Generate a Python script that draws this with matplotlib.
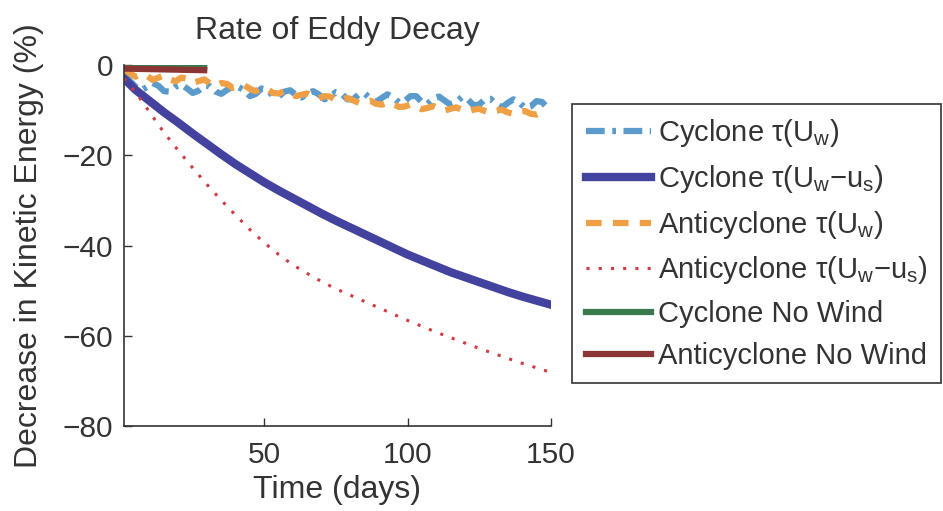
import numpy as np
import matplotlib
matplotlib.use("Agg")
import matplotlib.pyplot as plt

plt.rcParams["font.family"] = ["Liberation Sans", "DejaVu Sans"]
plt.rcParams["mathtext.fontset"] = "custom"
plt.rcParams["mathtext.rm"] = "Liberation Sans"
plt.rcParams["mathtext.it"] = "Liberation Sans:italic"

# wiggly runs (every 2 days)
days_wiggle = np.arange(1, 150, 2)
cyclone_uw = [
    -2.0, -3.5, -4.8, -5.6, -4.9, -4.0, -4.6, -5.8, -5.9, -4.8,
    -4.3, -5.2, -6.2, -5.7, -4.6, -4.7, -5.9, -6.4, -5.5, -4.8,
    -4.9, -5.6, -6.9, -6.4, -5.2, -5.5, -6.8, -7.0, -5.9, -5.6,
    -6.6, -7.2, -6.3, -5.8, -6.5, -7.6, -7.0, -6.0, -6.4, -7.6,
    -7.6, -6.5, -6.3, -7.4, -8.2, -7.3, -6.5, -7.2, -8.3, -8.0,
    -6.9, -6.9, -8.2, -8.6, -7.4, -7.0, -7.9, -8.8, -8.2, -7.1,
    -7.6, -8.9, -8.8, -7.6, -7.5, -8.7, -9.4, -8.4, -7.6, -8.3,
    -9.5, -9.2, -8.0, -8.2, -9.6,
]
anticyclone_uw = [
    -1.0, -1.8, -2.6, -2.0, -2.4, -3.3, -2.8, -2.3, -3.2, -3.6,
    -2.8, -3.0, -3.9, -3.6, -3.2, -4.1, -4.6, -4.0, -4.2, -5.1,
    -4.9, -4.5, -5.3, -5.8, -5.2, -5.3, -6.2, -6.3, -5.8, -6.2,
    -6.9, -6.6, -6.3, -7.0, -7.4, -6.9, -7.0, -7.8, -7.7, -7.3,
    -7.8, -8.4, -8.0, -7.9, -8.6, -8.8, -8.3, -8.6, -9.3, -9.2,
    -8.8, -9.2, -9.8, -9.5, -9.1, -9.6, -10.1, -9.7, -9.4, -9.9,
    -10.3, -9.9, -9.7, -10.2, -10.6, -10.1, -9.9, -10.5, -10.8, -10.3,
    -10.2, -10.8, -11.0, -10.5, -10.6,
]

# smooth runs (every 5 days)
days_smooth = [1, 5, 10, 15, 20, 25, 30, 35, 40, 45, 50, 55, 60, 65, 70, 75,
               80, 85, 90, 95, 100, 105, 110, 115, 120, 125, 130, 135, 140, 145, 150]
cyclone_uw_us = [
    -3.0, -5.5, -8.0, -10.5, -12.8, -15.2, -17.5, -19.8, -22.0, -24.0, -26.0,
    -27.8, -29.5, -31.2, -32.9, -34.5, -36.0, -37.5, -39.0, -40.5, -42.0,
    -43.3, -44.6, -45.9, -47.0, -48.1, -49.2, -50.3, -51.3, -52.2, -53.1,
]
anticyclone_uw_us = [
    -3.0, -6.0, -10.5, -15.0, -19.0, -22.8, -26.5, -30.0, -33.3, -36.5, -39.4,
    -42.0, -44.3, -46.2, -48.0, -49.6, -51.0, -52.4, -53.8, -55.2, -56.6,
    -57.9, -59.2, -60.4, -61.6, -62.8, -63.9, -65.0, -66.1, -67.1, -68.1,
]

# no-wind runs
days_nowind = [1, 5, 9, 13, 17, 21, 25, 29]
cyclone_nowind = [-0.1, -0.15, -0.2, -0.25, -0.3, -0.35, -0.4, -0.45]
anticyclone_nowind = [-0.8, -0.85, -0.9, -0.95, -1.0, -1.05, -1.1, -1.15]

text_color = "#333333"

fig = plt.figure(figsize=(9.43, 5.11), dpi=100)
ax = fig.add_axes([0.1315, 0.1663, 0.4525, 0.7065])

ax.plot(days_wiggle, cyclone_uw, color="#5b9bcb", lw=4.5, ls=(0, (3, 1.2, 0.6, 1.2)),
        label=r"Cyclone τ(U$_{\mathrm{w}}$)")
ax.plot(days_smooth, cyclone_uw_us, color="#43439f", lw=6, ls="-",
        label=r"Cyclone τ(U$_{\mathrm{w}}$−u$_{\mathrm{s}}$)")
ax.plot(days_wiggle, anticyclone_uw, color="#ef9f44", lw=4.5, ls=(0, (2.5, 1.8)),
        label=r"Anticyclone τ(U$_{\mathrm{w}}$)")
ax.plot(days_smooth, anticyclone_uw_us, color="#d03a44", lw=2.2, ls=(0, (1, 3)),
        label=r"Anticyclone τ(U$_{\mathrm{w}}$−u$_{\mathrm{s}}$)")
ax.plot(days_nowind, cyclone_nowind, color="#3b7a4c", lw=4.5,
        label="Cyclone No Wind")
ax.plot(days_nowind, anticyclone_nowind, color="#8c3535", lw=4.5,
        label="Anticyclone No Wind")

ax.set_xlim(1, 150)
ax.set_ylim(-80, 0)
ax.set_xticks([50, 100, 150])
ax.set_yticks([-80, -60, -40, -20, 0])
for side in ["top", "right"]:
    ax.spines[side].set_visible(False)
for side in ["left", "bottom"]:
    ax.spines[side].set_color(text_color)
    ax.spines[side].set_linewidth(1.2)
ax.tick_params(direction="in", length=6, width=1, colors=text_color,
               labelsize=21.5, labelcolor=text_color)
ax.tick_params(axis="x", pad=11)
ax.tick_params(axis="y", pad=8)

ax.set_title("Rate of Eddy Decay", fontsize=23, color=text_color, pad=19)
ax.set_xlabel("Time (days)", fontsize=23, color=text_color, labelpad=4)
ax.set_ylabel("Decrease in Kinetic Energy (%)", fontsize=23, color=text_color, labelpad=13)

leg = fig.legend(loc="upper left", bbox_to_anchor=(0.607, 0.796), fontsize=21,
                 handlelength=2.25, handletextpad=0.25, labelspacing=0.47,
                 borderpad=0.45, borderaxespad=0, fancybox=False, framealpha=1)
leg.get_frame().set_edgecolor(text_color)
leg.get_frame().set_linewidth(1.2)
for t in leg.get_texts():
    t.set_color(text_color)

fig.savefig("out.png", dpi=100)
